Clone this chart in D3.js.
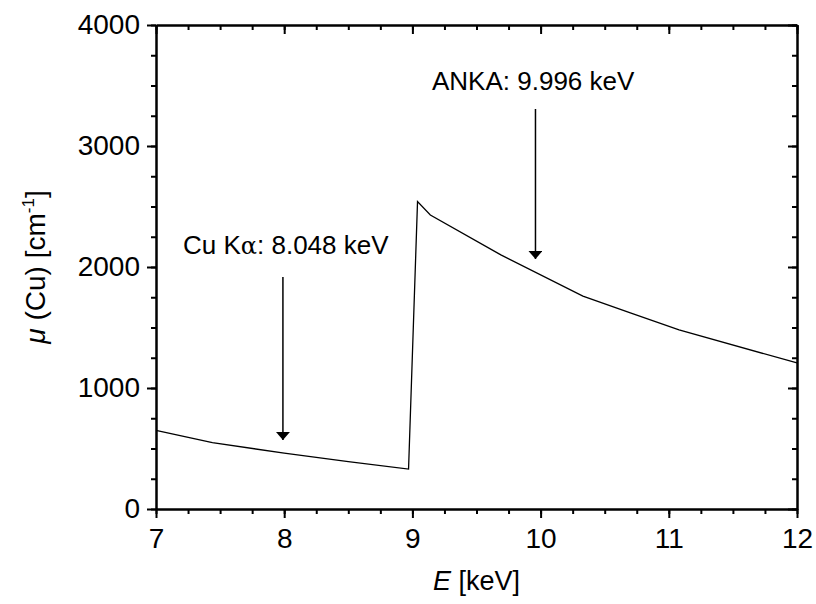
<!DOCTYPE html>
<html>
<head>
<meta charset="utf-8">
<script src="https://cdn.jsdelivr.net/npm/d3@7"></script>
<style>
  body { margin: 0; background: #fff; }
  svg text { font-family: Arial, "Liberation Sans", sans-serif; fill: #000; }
</style>
</head>
<body>
<div id="chart"></div>
<script>
// absorption curve of Cu
const energy = [7.0, 7.44, 8.0, 8.5, 8.97, 9.04, 9.14, 9.69, 10.33, 10.7, 11.08, 12.0];
const mu = [650, 548, 462, 392, 330, 2540, 2430, 2100, 1760, 1620, 1480, 1207];

const xTicks = [7, 8, 9, 10, 11, 12];
const yTicks = [0, 1000, 2000, 3000, 4000];

// annotation arrows: x position, arrow top and tip (data units)
const arrowX = [7.99, 9.96];
const arrowTop = [1917, 3306];
const arrowTip = [570, 2066];

let width = 816;
let height = 604;
let margin = { top: 25, right: 19, bottom: 95, left: 156 };

let svg = d3.select('#chart').append('svg').attr('width', width).attr('height', height);

let x = d3.scaleLinear().domain([7, 12]).range([margin.left, width - margin.right]);
let y = d3.scaleLinear().domain([0, 4000]).range([height - margin.bottom, margin.top]);

svg.append('defs').append('marker')
  .attr('id', 'head')
  .attr('viewBox', '0 0 8 14')
  .attr('refX', 8).attr('refY', 7)
  .attr('markerWidth', 8).attr('markerHeight', 14)
  .attr('markerUnits', 'userSpaceOnUse')
  .attr('orient', 'auto')
  .append('path')
  .attr('d', 'M0,0 L8,7 L0,14 Z').attr('fill', '#000');

// minor ticks
let xMinor = d3.range(7, 12.001, 0.25);
let yMinor = d3.range(0, 4001, 250);

function styleAxis(g) {
  g.select('.domain').attr('stroke-width', 2);
  g.selectAll('.tick line').attr('stroke-width', 2);
  g.selectAll('.tick text').style('font-size', '28px');
}

// bottom
svg.append('g')
  .attr('transform', 'translate(0,' + y(0) + ')')
  .call(d3.axisBottom(x).tickValues(xMinor).tickSize(5).tickFormat('').tickSizeOuter(0))
  .call(styleAxis);
svg.append('g')
  .attr('id', 'x-axis')
  .attr('transform', 'translate(0,' + y(0) + ')')
  .call(d3.axisBottom(x).tickValues(xTicks).tickSize(9).tickPadding(10).tickFormat(d3.format('d')).tickSizeOuter(0))
  .call(styleAxis);

// top (ticks inward)
svg.append('g')
  .attr('transform', 'translate(0,' + y(4000) + ')')
  .call(d3.axisBottom(x).tickValues(xMinor).tickSize(5).tickFormat('').tickSizeOuter(0))
  .call(styleAxis);
svg.append('g')
  .attr('transform', 'translate(0,' + y(4000) + ')')
  .call(d3.axisBottom(x).tickValues(xTicks).tickSize(9).tickFormat('').tickSizeOuter(0))
  .call(styleAxis);

// left
svg.append('g')
  .attr('transform', 'translate(' + x(7) + ',0)')
  .call(d3.axisLeft(y).tickValues(yMinor).tickSize(5).tickFormat('').tickSizeOuter(0))
  .call(styleAxis);
svg.append('g')
  .attr('id', 'y-axis')
  .attr('transform', 'translate(' + x(7) + ',0)')
  .call(d3.axisLeft(y).tickValues(yTicks).tickSize(9).tickPadding(7).tickFormat(d3.format('d')).tickSizeOuter(0))
  .call(styleAxis);

// right (ticks inward)
svg.append('g')
  .attr('transform', 'translate(' + x(12) + ',0)')
  .call(d3.axisLeft(y).tickValues(yMinor).tickSize(5).tickFormat('').tickSizeOuter(0))
  .call(styleAxis);
svg.append('g')
  .attr('transform', 'translate(' + x(12) + ',0)')
  .call(d3.axisLeft(y).tickValues(yTicks).tickSize(9).tickFormat('').tickSizeOuter(0))
  .call(styleAxis);

// curve
let line = d3.line().x((d, i) => x(energy[i])).y((d, i) => y(mu[i]));
svg.append('path')
  .datum(energy)
  .attr('d', line)
  .attr('fill', 'none')
  .attr('stroke', '#000')
  .attr('stroke-width', 1.3);

// arrows
svg.selectAll('.arrow')
  .data(arrowX)
  .enter()
  .append('line')
  .attr('class', 'arrow')
  .attr('x1', (d) => x(d)).attr('x2', (d) => x(d))
  .attr('y1', (d, i) => y(arrowTop[i])).attr('y2', (d, i) => y(arrowTip[i]))
  .attr('stroke', '#000')
  .attr('stroke-width', 1.5)
  .attr('marker-end', 'url(#head)');

// labels
let t1 = svg.append('text')
  .attr('x', 183).attr('y', 254)
  .style('font-size', '26px');
t1.append('tspan').text('Cu K');
t1.append('tspan').text('α').style('font-family', '"DejaVu Serif", "Liberation Serif", serif').style('font-size', '24px');
t1.append('tspan').text(': 8.048 keV');

svg.append('text')
  .attr('x', 432).attr('y', 90)
  .style('font-size', '26px')
  .text('ANKA: 9.996 keV');

// axis titles
let xt = svg.append('text')
  .attr('x', x(9.5)).attr('y', 590)
  .attr('text-anchor', 'middle')
  .style('font-size', '27px');
xt.append('tspan').text('E').style('font-style', 'italic');
xt.append('tspan').text(' [keV]');

let yt = svg.append('text')
  .attr('transform', 'translate(45,' + (y(2000)) + ') rotate(-90)')
  .attr('text-anchor', 'middle')
  .style('font-size', '28px');
yt.append('tspan').text('μ').style('font-style', 'italic');
yt.append('tspan').text(' (Cu) [cm');
yt.append('tspan').text('-1').attr('dy', -11).style('font-size', '17px');
yt.append('tspan').text(']').attr('dy', 11);
</script>
</body>
</html>
